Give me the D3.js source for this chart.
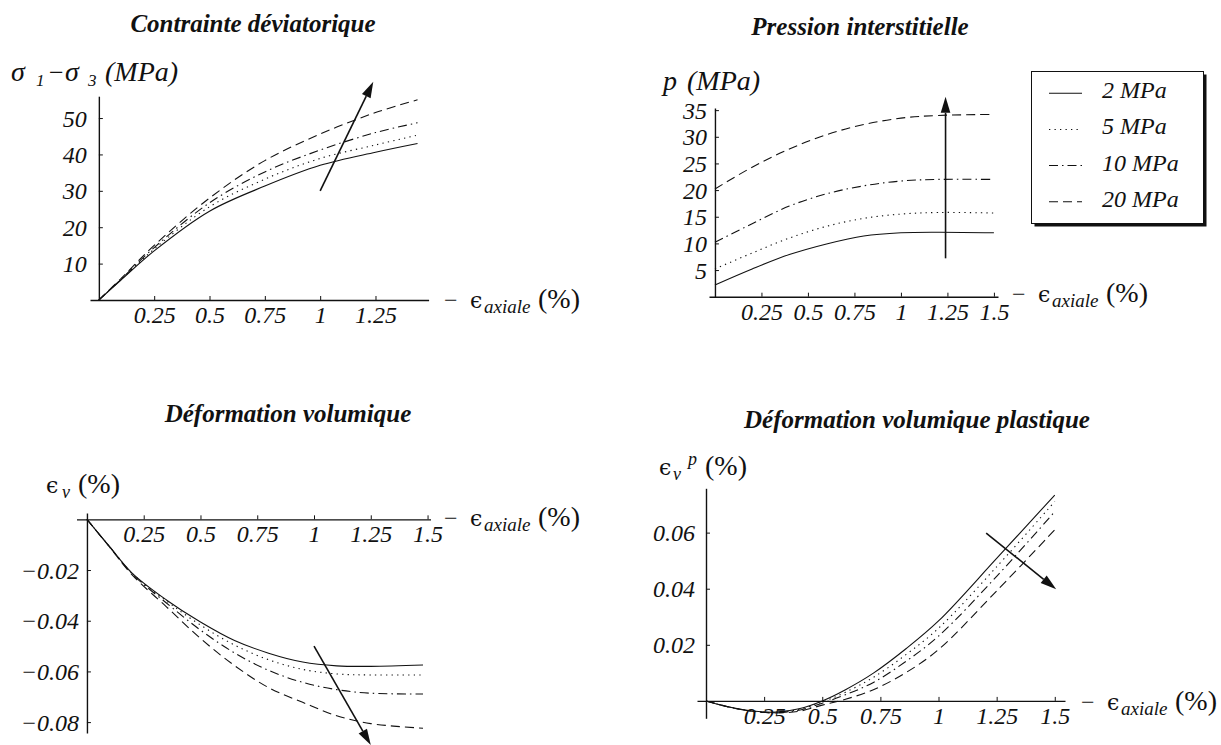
<!DOCTYPE html>
<html><head><meta charset="utf-8">
<script src="https://cdn.jsdelivr.net/npm/d3@7"></script>
<style>
body{margin:0;background:#fff;}
svg{display:block;background:#fff;}
text{font-family:"Liberation Serif","Times New Roman","DejaVu Serif",serif;fill:#111;}
</style></head><body>
<svg id="chart" width="1221" height="745"></svg>
<script>
// ================= DATA =================
const seriesNames = ["2 MPa", "5 MPa", "10 MPa", "20 MPa"];

// Contrainte déviatorique  (sigma1 - sigma3, MPa)
const devX   = [0, 0.1, 0.25, 0.5, 0.75, 1.0, 1.25, 1.44];
const dev2   = [0, 5.5, 13.5, 24.4, 31.3, 37.0, 40.6, 43.0];
const dev5   = [0, 5.6, 14.0, 25.6, 33.2, 38.9, 42.6, 45.3];
const dev10  = [0, 5.7, 14.4, 26.7, 35.2, 41.2, 46.0, 48.7];
const dev20  = [0, 5.9, 15.0, 28.0, 38.3, 45.6, 51.5, 55.0];
const devArrow = [[1.0, 30], [1.24, 60]];
const devXTicks = [0.25, 0.5, 0.75, 1, 1.25];
const devXTickLabels = ["0.25", "0.5", "0.75", "1", "1.25"];
const devYTicks = [10, 20, 30, 40, 50];
const devYTickLabels = ["10", "20", "30", "40", "50"];

// Pression interstitielle (p, MPa)
const presX  = [0, 0.2, 0.4, 0.6, 0.8, 1.0, 1.2, 1.5];
const pres2  = [2.2, 5.2, 7.9, 9.9, 11.4, 12.0, 12.1, 12.0];
const pres5  = [5.2, 8.2, 11.0, 13.2, 14.7, 15.5, 15.8, 15.7];
const pres10 = [10.2, 13.7, 17.0, 19.3, 20.8, 21.7, 22.0, 22.0];
const pres20 = [20.2, 24.3, 27.7, 30.4, 32.3, 33.5, 34.0, 34.2];
const presArrow = [[1.24, 7.2], [1.24, 37.5]];
const presXTicks = [0.25, 0.5, 0.75, 1, 1.25, 1.5];
const presXTickLabels = ["0.25", "0.5", "0.75", "1", "1.25", "1.5"];
const presYTicks = [5, 10, 15, 20, 25, 30, 35];
const presYTickLabels = ["5", "10", "15", "20", "25", "30", "35"];

// Déformation volumique (eps_v, %)
const volX   = [0, 0.1, 0.2, 0.35, 0.5, 0.65, 0.8, 0.95, 1.1, 1.25, 1.48];
const vol2   = [0, -0.0108, -0.0213, -0.0318, -0.0405, -0.0478, -0.0528, -0.0563, -0.0578, -0.0580, -0.0575];
const vol5   = [0, -0.0108, -0.0214, -0.0322, -0.0417, -0.0496, -0.0554, -0.0592, -0.0610, -0.0614, -0.0614];
const vol10  = [0, -0.0109, -0.0216, -0.0330, -0.0437, -0.0527, -0.0596, -0.0643, -0.0672, -0.0686, -0.0689];
const vol20  = [0, -0.0110, -0.0220, -0.0345, -0.0470, -0.0577, -0.0664, -0.0722, -0.0775, -0.0806, -0.0824];
const volArrow = [[1.0, -0.050], [1.25, -0.089]];
const volXTicks = [0.25, 0.5, 0.75, 1, 1.25, 1.5];
const volXTickLabels = ["0.25", "0.5", "0.75", "1", "1.25", "1.5"];
const volYTicks = [-0.02, -0.04, -0.06, -0.08];
const volYTickLabels = ["\u22120.02", "\u22120.04", "\u22120.06", "\u22120.08"];

// Déformation volumique plastique (eps_v^p, %)
const plasX  = [0, 0.1, 0.2, 0.3, 0.4, 0.5, 0.6, 0.72, 0.86, 1.0, 1.25, 1.5];
const plas2  = [0, -0.0022, -0.0036, -0.0040, -0.0028, 0.0000, 0.0040, 0.0099, 0.0186, 0.0285, 0.0508, 0.0734];
const plas5  = [0, -0.0022, -0.0036, -0.0041, -0.0030, -0.0004, 0.0031, 0.0084, 0.0165, 0.0259, 0.0478, 0.0711];
const plas10 = [0, -0.0022, -0.0037, -0.0042, -0.0033, -0.0008, 0.0022, 0.0066, 0.0141, 0.0231, 0.0444, 0.0675];
const plas20 = [0, -0.0022, -0.0037, -0.0043, -0.0037, -0.0015, 0.0006, 0.0040, 0.0101, 0.0183, 0.0392, 0.0610];
const plasArrow = [[1.205, 0.0598], [1.506, 0.0398]];
const plasXTicks = [0.25, 0.5, 0.75, 1, 1.25, 1.5];
const plasXTickLabels = ["0.25", "0.5", "0.75", "1", "1.25", "1.5"];
const plasYTicks = [0.02, 0.04, 0.06];
const plasYTickLabels = ["0.02", "0.04", "0.06"];

// ================= STYLE / LAYOUT =================
const dashes = [null, "1.3,4.2", "9,4,1.5,4", "9,5"];
const INK = "#111";
const svg = d3.select("#chart");

const panels = [
  { title: "Contrainte déviatorique", titleX: 253, titleY: 32,
    xd: [-0.04, 1.49], xr: [90, 428.6], yd: [0, 56], yr: [300, 96.2],
    xs: devX, ys: [dev2, dev5, dev10, dev20], arrow: devArrow,
    xt: devXTicks, xtl: devXTickLabels, yt: devYTicks, ytl: devYTickLabels, yGap: 12,
    xl: [444, 308], yl: "sigma", ylPos: [11, 81] },
  { title: "Pression interstitielle", titleX: 860, titleY: 35,
    xd: [-0.032, 1.522], xr: [709, 998], yd: [0, 35.4], yr: [296.7, 108],
    xs: presX, ys: [pres2, pres5, pres10, pres20], arrow: presArrow,
    xt: presXTicks, xtl: presXTickLabels, yt: presYTicks, ytl: presYTickLabels, yGap: 8,
    xl: [1012, 302], yl: "p", ylPos: [663, 90] },
  { title: "Déformation volumique", titleX: 288, titleY: 422,
    xd: [-0.046, 1.513], xr: [76.5, 430.5], yd: [-0.0843, 0.0025], yr: [733, 513],
    xs: volX, ys: [vol2, vol5, vol10, vol20], arrow: volArrow,
    xt: volXTicks, xtl: volXTickLabels, yt: volYTicks, ytl: volYTickLabels, yGap: 8,
    xl: [444, 526], yl: "ev", ylPos: [46, 493] },
  { title: "Déformation volumique plastique", titleX: 917, titleY: 428,
    xd: [-0.0387, 1.544], xr: [697, 1065], yd: [-0.0062, 0.0758], yr: [718.3, 488.3],
    xs: plasX, ys: [plas2, plas5, plas10, plas20], arrow: plasArrow,
    xt: plasXTicks, xtl: plasXTickLabels, yt: plasYTicks, ytl: plasYTickLabels, yGap: 11,
    xl: [1081, 710], yl: "evp", ylPos: [659, 475] }
];

function piece(x, y, t, size, opts) {
  opts = opts || {};
  return svg.append("text")
    .attr("x", x).attr("y", y)
    .attr("text-anchor", opts.anchor || "start")
    .attr("font-size", size)
    .attr("font-style", opts.italic ? "italic" : "normal")
    .attr("font-weight", opts.bold ? "bold" : "normal")
    .style("font-family", opts.family || null)
    .text(t);
}

const EPS_FONT = "'DejaVu Serif', serif";
function xAxisLabel(x, y) {
  piece(x, y, "\u2212", 24);
  piece(x + 26, y, "\u03F5", 22, { family: EPS_FONT });
  piece(x + 40, y + 5, "axiale", 19, { italic: true });
  piece(x + 94, y, "(%)", 28);
}

function yAxisLabel(kind, x, y) {
  if (kind === "sigma") {
    piece(x, y, "\u03C3", 28, { italic: true });
    piece(x + 25, y + 5, "1", 17, { italic: true });
    piece(x + 38, y, "\u2212", 26);
    piece(x + 54, y, "\u03C3", 28, { italic: true });
    piece(x + 77, y + 5, "3", 17, { italic: true });
    piece(x + 94, y, "(MPa)", 28, { italic: true });
  } else if (kind === "p") {
    piece(x, y, "p", 28, { italic: true });
    piece(x + 24, y, "(MPa)", 28, { italic: true });
  } else if (kind === "ev") {
    piece(x, y, "\u03F5", 22, { family: EPS_FONT });
    piece(x + 16, y + 5, "\u03BD", 18, { italic: true });
    piece(x + 32, y, "(%)", 28);
  } else {
    piece(x, y, "\u03F5", 22, { family: EPS_FONT });
    piece(x + 14, y + 5, "\u03BD", 18, { italic: true });
    piece(x + 29, y - 10, "p", 18, { italic: true });
    piece(x + 46, y, "(%)", 28);
  }
}

function drawArrow(x1, y1, x2, y2) {
  const ang = Math.atan2(y2 - y1, x2 - x1);
  const L = 16, W = 4.8;
  const bx = x2 - L * Math.cos(ang), by = y2 - L * Math.sin(ang);
  svg.append("line").attr("x1", x1).attr("y1", y1).attr("x2", bx).attr("y2", by)
    .attr("stroke", INK).attr("stroke-width", 1.6);
  const px = -Math.sin(ang), py = Math.cos(ang);
  svg.append("polygon")
    .attr("points", [[x2, y2], [bx + W * px, by + W * py], [bx - W * px, by - W * py]].map(p => p.join(",")).join(" "))
    .attr("fill", INK);
}

panels.forEach(p => {
  const x = d3.scaleLinear().domain(p.xd).range(p.xr);
  const y = d3.scaleLinear().domain(p.yd).range(p.yr);

  piece(p.titleX, p.titleY, p.title, 25, { italic: true, bold: true, anchor: "middle" });

  const gx = svg.append("g").attr("transform", `translate(0,${y(0)})`)
    .call(d3.axisBottom(x).tickValues(p.xt).tickFormat(d => p.xtl[p.xt.indexOf(d)])
      .tickSizeInner(-4).tickSizeOuter(0));
  const gy = svg.append("g").attr("transform", `translate(${x(0)},0)`)
    .call(d3.axisLeft(y).tickValues(p.yt).tickFormat(d => p.ytl[p.yt.indexOf(d)])
      .tickSizeInner(-4).tickSizeOuter(0));
  [gx, gy].forEach(g => {
    g.attr("font-size", 24);
    g.select(".domain").attr("stroke", INK).attr("stroke-width", 1.4);
    g.selectAll(".tick line").attr("stroke", INK).attr("stroke-width", 1);
  });
  gx.selectAll(".tick text").attr("y", 23).attr("dy", 0).attr("x", 0)
    .attr("font-style", "italic").attr("fill", INK).attr("font-size", 24);
  gy.selectAll(".tick text").attr("x", -p.yGap).attr("dy", "0.34em").attr("text-anchor", "end")
    .attr("font-style", "italic").attr("fill", INK).attr("font-size", 24);

  const line = d3.line().x(d => x(d[0])).y(d => y(d[1])).curve(d3.curveCatmullRom.alpha(0.5));
  p.ys.forEach((vals, i) => {
    const pts = p.xs.map((xv, j) => [xv, vals[j]]);
    svg.append("path").datum(pts).attr("d", line)
      .attr("fill", "none").attr("stroke", INK).attr("stroke-width", 1.1)
      .attr("stroke-dasharray", dashes[i]);
  });

  drawArrow(x(p.arrow[0][0]), y(p.arrow[0][1]), x(p.arrow[1][0]), y(p.arrow[1][1]));

  xAxisLabel(p.xl[0], p.xl[1]);
  yAxisLabel(p.yl, p.ylPos[0], p.ylPos[1]);
});

// legend
const lg = { x: 1031.5, y: 71.5, w: 172, h: 152 };
svg.append("rect").attr("x", lg.x + 3).attr("y", lg.y + 3).attr("width", lg.w).attr("height", lg.h).attr("fill", INK);
svg.append("rect").attr("x", lg.x).attr("y", lg.y).attr("width", lg.w).attr("height", lg.h)
  .attr("fill", "#fff").attr("stroke", INK).attr("stroke-width", 1);
const rowY = d3.scalePoint().domain(seriesNames).range([98.3, 206.7]);
seriesNames.forEach((n, i) => {
  const yy = rowY(n);
  svg.append("line").attr("x1", 1049).attr("x2", 1082).attr("y1", yy - 5).attr("y2", yy - 5)
    .attr("stroke", INK).attr("stroke-width", 1.1).attr("stroke-dasharray", dashes[i]);
  piece(1102, yy, n, 24, { italic: true });
});
</script>
</body></html>
